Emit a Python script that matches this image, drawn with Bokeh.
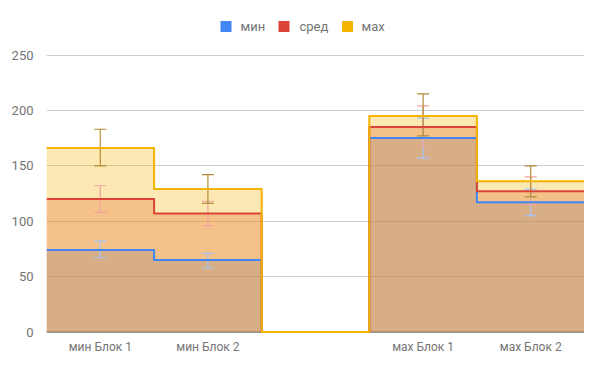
from bokeh.plotting import figure
from bokeh.models import Range1d, FixedTicker, Span
from bokeh.core.properties import value
from bokeh.embed import file_html
from bokeh.resources import INLINE

# ---- data ----
categories = ["мин Блок 1", "мин Блок 2", "", "мах Блок 1", "мах Блок 2"]
series_names = ["мин", "сред", "мах"]
min_vals = [74, 65, 0, 175, 117]
avg_vals = [120, 107, 0, 185, 127]
max_vals = [166, 129, 0, 195, 136]

min_lo = [67, 58, None, 157, 105]
min_hi = [82, 71, None, 193, 129]
avg_lo = [108, 96, None, 167, 115]
avg_hi = [132, 118, None, 204, 140]
max_lo = [150, 116, None, 177, 122]
max_hi = [183, 142, None, 215, 150]

y_ticks = [0, 50, 100, 150, 200, 250]

colors = ["#4285f4", "#db4437", "#f4b400"]
interval_colors = ["#a6c3f7", "#f2a3a0", "#b38d34"]

FONT = "Roboto"
TXT = "#757575"

# ---- layout (screen px) ----
W, H = 584, 355
LEFT, TOP = 46, 8
ZERO_PX = 331.5          # screen y of value 0
PX_PER_Y = 1.108         # px per value unit
PX_PER_X = (W - LEFT) / len(categories)

y_top = (ZERO_PX - TOP) / PX_PER_Y
y_bot = -(H - ZERO_PX) / PX_PER_Y


def sx(px):
    return (px - LEFT) / PX_PER_X


def sy(py):
    return (ZERO_PX - py) / PX_PER_Y


p = figure(width=W, height=H, output_backend="svg", toolbar_location=None,
           x_range=Range1d(0, len(categories)), y_range=Range1d(y_bot, y_top),
           min_border_left=LEFT, min_border_right=0, min_border_top=TOP,
           min_border_bottom=0)
p.outline_line_color = None
p.background_fill_color = "white"
p.xaxis.visible = False

# grid
p.xgrid.grid_line_color = None
p.ygrid.grid_line_color = "#cccccc"
p.ygrid.ticker = FixedTicker(ticks=y_ticks[1:])

# y axis
p.yaxis.ticker = FixedTicker(ticks=y_ticks)
p.yaxis.axis_line_color = None
p.yaxis.major_tick_line_color = None
p.yaxis.minor_tick_line_color = None
p.yaxis.major_label_standoff = 7
p.yaxis.major_label_text_font = FONT
p.yaxis.major_label_text_font_size = "13px"
p.yaxis.major_label_text_color = TXT

# baseline
p.add_layout(Span(location=0, dimension="width", line_color="#333333",
                  line_width=1, level="underlay"))

edges = list(range(len(categories) + 1))
centers = [i + 0.5 for i in range(len(categories))]
all_vals = [min_vals, avg_vals, max_vals]

# areas
for vals, col in zip(all_vals, colors):
    yv = vals + [vals[-1]]
    p.varea_step(x=edges, y1=[0] * len(edges), y2=yv, step_mode="after",
                 fill_color=col, fill_alpha=0.3)

# intervals
cap = 6 / PX_PER_X
for lo, hi, col in zip([min_lo, avg_lo, max_lo], [min_hi, avg_hi, max_hi],
                       interval_colors):
    xs = [c for c, l in zip(centers, lo) if l is not None]
    los = [l for l in lo if l is not None]
    his = [h for h in hi if h is not None]
    p.segment(x0=xs, x1=xs, y0=los, y1=his, line_color=col, line_width=1.2)
    p.segment(x0=[x - cap for x in xs], x1=[x + cap for x in xs], y0=los,
              y1=los, line_color=col, line_width=1.2)
    p.segment(x0=[x - cap for x in xs], x1=[x + cap for x in xs], y0=his,
              y1=his, line_color=col, line_width=1.2)

# lines
for vals, col in zip(all_vals, colors):
    yv = vals + [vals[-1]]
    p.step(x=edges, y=yv, mode="after", line_color=col, line_width=2,
           line_join="round")

# category labels
p.text(x=centers, y=[sy(346)] * len(centers), text=categories,
       text_font=value(FONT), text_font_size="12px", text_color=TXT,
       text_align="center", text_baseline="middle")

# legend (squares + labels)
sq_px = [225.5, 283.5, 347]
lab_px = [240, 299, 361]
p.scatter(x=[sx(v) for v in sq_px], y=[sy(26)] * 3, marker="square",
          size=11, fill_color=colors, line_color=None)
p.text(x=[sx(v) for v in lab_px], y=[sy(26)] * 3, text=series_names,
       text_font=value(FONT), text_font_size="13px", text_color=TXT,
       text_align="left", text_baseline="middle")

open("out.html", "w").write(file_html(p, INLINE))
